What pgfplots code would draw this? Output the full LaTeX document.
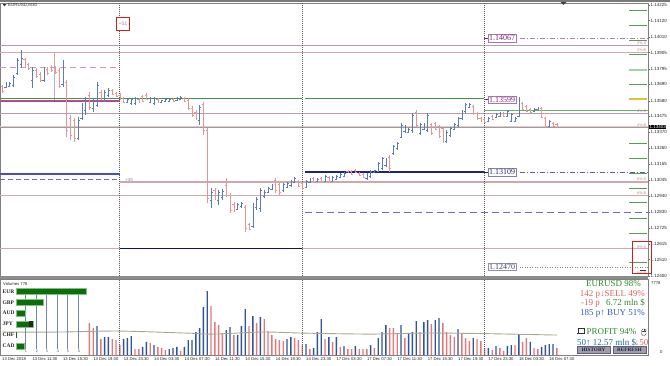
\documentclass[border=0pt]{standalone}
\usepackage{pgfplots}
\pgfplotsset{compat=1.18}
\usepackage{pgfplotstable}
\usepackage{fontspec}
\setmainfont{Liberation Sans}
\newfontfamily\serif{Liberation Serif}

\definecolor{upc}{HTML}{5A7DB0}
\definecolor{dnc}{HTML}{E59595}
\definecolor{vup}{HTML}{2F5597}
\definecolor{vdn}{HTML}{E07A7A}
\definecolor{mauve}{HTML}{B89AB4}
\definecolor{pinkl}{HTML}{CDA8AE}
\definecolor{greenl}{HTML}{3C9A3C}
\definecolor{navy}{HTML}{202080}
\definecolor{purp}{HTML}{7A2A7A}
\definecolor{txtgreen}{HTML}{2E8B2E}
\definecolor{txtred}{HTML}{E06060}
\definecolor{txtblue}{HTML}{3060B0}
\definecolor{txtteal}{HTML}{1F6F8F}
\definecolor{cgreen}{HTML}{0A6E0A}
\definecolor{dashpink}{HTML}{D890C0}
\definecolor{curband}{HTML}{D6CFCF}
\definecolor{curline}{HTML}{A89898}
\definecolor{greenthin}{HTML}{6AB06A}
\definecolor{bluel}{HTML}{4A4AD0}
\definecolor{dashgray}{HTML}{707090}
\definecolor{ddnavy}{HTML}{606090}
\definecolor{dashnavy}{HTML}{7070A8}
\definecolor{navyd}{HTML}{101060}
\definecolor{ddpurp}{HTML}{B080B0}
\definecolor{magental}{HTML}{C040A0}
\definecolor{sgreen}{HTML}{5A9A5A}
\definecolor{sgreenl}{HTML}{A8D0A8}
\definecolor{syellow}{HTML}{E0C040}
\definecolor{boxpurp}{HTML}{B070B0}
\definecolor{boxnavy}{HTML}{8080B0}
\definecolor{txtnavy}{HTML}{2A2A6A}
\definecolor{boxgray}{HTML}{9090B0}
\definecolor{txtgray}{HTML}{40406A}
\definecolor{plusc}{HTML}{8090B0}
\definecolor{redbox}{HTML}{D02020}
\definecolor{plusfc}{HTML}{B080C0}
\definecolor{pctc}{HTML}{C08080}
\definecolor{sepc}{HTML}{8C8C8C}
\definecolor{topb}{HTML}{7A7A7A}
\definecolor{vlinec}{HTML}{7088A8}
\definecolor{cgreenl}{HTML}{80C080}
\definecolor{mac}{HTML}{A8A890}
\definecolor{btnfill}{HTML}{9C9CAA}
\definecolor{btndraw}{HTML}{606070}
\definecolor{btntext}{HTML}{202050}

\pgfdeclareplotmark{otick}{\pgfpathmoveto{\pgfqpoint{-1.5pt}{0pt}}\pgfpathlineto{\pgfqpoint{0pt}{0pt}}\pgfusepathqstroke}
\pgfdeclareplotmark{ctick}{\pgfpathmoveto{\pgfqpoint{0pt}{0pt}}\pgfpathlineto{\pgfqpoint{1.5pt}{0pt}}\pgfusepathqstroke}

\pgfplotstableread{
i o h l c
1 1.13673 1.13706 1.13666 1.13700
2 1.13679 1.13706 1.13673 1.13700
3 1.13686 1.13753 1.13673 1.13740
4 1.13767 1.13868 1.13753 1.13854
5 1.13827 1.13922 1.13801 1.13868
8 1.13720 1.13807 1.13666 1.13787
11 1.13720 1.13807 1.13706 1.13787
16 1.13693 1.13854 1.13673 1.13834
20 1.13329 1.13471 1.13316 1.13450
21 1.13464 1.13565 1.13450 1.13551
22 1.13518 1.13605 1.13484 1.13585
24 1.13531 1.13599 1.13504 1.13585
25 1.13551 1.13706 1.13538 1.13686
27 1.13585 1.13652 1.13572 1.13639
28 1.13619 1.13666 1.13605 1.13652
33 1.13572 1.13599 1.13565 1.13592
34 1.13565 1.13599 1.13551 1.13592
35 1.13565 1.13605 1.13551 1.13599
39 1.13572 1.13605 1.13565 1.13599
40 1.13565 1.13605 1.13551 1.13599
42 1.13572 1.13585 1.13565 1.13585
43 1.13578 1.13599 1.13572 1.13592
44 1.13578 1.13599 1.13572 1.13592
46 1.13585 1.13605 1.13578 1.13599
47 1.13592 1.13612 1.13585 1.13605
52 1.13450 1.13551 1.13417 1.13538
55 1.12912 1.12993 1.12858 1.12966
57 1.12912 1.12979 1.12878 1.12966
58 1.12932 1.12986 1.12912 1.12972
62 1.12851 1.12892 1.12845 1.12885
63 1.12871 1.12898 1.12858 1.12892
66 1.12737 1.12892 1.12723 1.12878
67 1.12865 1.12932 1.12845 1.12919
68 1.12858 1.12993 1.12831 1.12979
69 1.12939 1.12979 1.12925 1.12966
70 1.12966 1.12999 1.12959 1.12993
71 1.12986 1.13020 1.12979 1.13013
74 1.12979 1.13026 1.12966 1.13020
75 1.12999 1.13033 1.12993 1.13026
76 1.13013 1.13047 1.12999 1.13040
77 1.13033 1.13067 1.13026 1.13060
80 1.12999 1.13047 1.12993 1.13040
81 1.13033 1.13060 1.13026 1.13053
83 1.13040 1.13060 1.13033 1.13053
85 1.13040 1.13080 1.13033 1.13073
87 1.13040 1.13073 1.13033 1.13067
88 1.13053 1.13080 1.13047 1.13073
89 1.13067 1.13094 1.13060 1.13087
90 1.13073 1.13100 1.13067 1.13094
96 1.13060 1.13094 1.13047 1.13087
97 1.13073 1.13114 1.13060 1.13107
98 1.13100 1.13114 1.13094 1.13110
99 1.13107 1.13168 1.13100 1.13161
100 1.13127 1.13201 1.13114 1.13195
101 1.13148 1.13195 1.13134 1.13188
103 1.13228 1.13282 1.13215 1.13275
104 1.13262 1.13302 1.13249 1.13296
105 1.13336 1.13430 1.13329 1.13417
106 1.13376 1.13417 1.13363 1.13410
107 1.13370 1.13397 1.13363 1.13390
108 1.13383 1.13498 1.13363 1.13484
110 1.13363 1.13430 1.13350 1.13424
111 1.13390 1.13430 1.13383 1.13424
112 1.13383 1.13498 1.13370 1.13484
117 1.13309 1.13383 1.13296 1.13370
118 1.13350 1.13403 1.13336 1.13397
119 1.13390 1.13430 1.13383 1.13424
120 1.13417 1.13471 1.13403 1.13464
121 1.13464 1.13518 1.13450 1.13511
122 1.13511 1.13565 1.13498 1.13558
123 1.13538 1.13565 1.13531 1.13558
128 1.13444 1.13471 1.13437 1.13464
130 1.13471 1.13498 1.13464 1.13491
131 1.13477 1.13504 1.13471 1.13498
133 1.13477 1.13518 1.13471 1.13511
134 1.13444 1.13498 1.13437 1.13491
135 1.13444 1.13471 1.13437 1.13464
136 1.13477 1.13605 1.13471 1.13592
140 1.13511 1.13531 1.13504 1.13525
141 1.13525 1.13538 1.13518 1.13531
144 1.13410 1.13450 1.13403 1.13444
}\upbars

\pgfplotstableread{
i o h l c
0 1.13679 1.13686 1.13632 1.13646
6 1.13861 1.13868 1.13807 1.13821
7 1.13827 1.13834 1.13787 1.13801
9 1.13787 1.13801 1.13733 1.13747
10 1.13760 1.13774 1.13706 1.13720
12 1.13794 1.13807 1.13753 1.13767
13 1.13807 1.13821 1.13774 1.13787
14 1.13801 1.13814 1.13760 1.13774
15 1.13787 1.13801 1.13666 1.13679
17 1.13706 1.13720 1.13336 1.13383
18 1.13464 1.13484 1.13316 1.13350
19 1.13450 1.13464 1.13302 1.13329
23 1.13619 1.13639 1.13518 1.13538
26 1.13639 1.13652 1.13585 1.13599
29 1.13652 1.13659 1.13619 1.13626
30 1.13632 1.13639 1.13605 1.13612
31 1.13619 1.13632 1.13585 1.13599
32 1.13599 1.13605 1.13565 1.13572
36 1.13592 1.13599 1.13565 1.13572
37 1.13612 1.13619 1.13572 1.13578
38 1.13619 1.13632 1.13585 1.13592
41 1.13592 1.13599 1.13565 1.13572
45 1.13592 1.13599 1.13572 1.13578
48 1.13599 1.13605 1.13572 1.13578
49 1.13585 1.13599 1.13518 1.13531
50 1.13531 1.13545 1.13471 1.13484
51 1.13504 1.13518 1.13450 1.13464
53 1.13558 1.13572 1.13350 1.13383
54 1.13383 1.13397 1.12892 1.12925
56 1.12979 1.12993 1.12912 1.12925
59 1.13013 1.13060 1.12932 1.12946
60 1.12946 1.12959 1.12824 1.12845
61 1.12885 1.12898 1.12831 1.12845
64 1.12865 1.12878 1.12696 1.12723
65 1.12750 1.12757 1.12710 1.12717
72 1.13047 1.13060 1.12959 1.12979
73 1.13020 1.13033 1.12946 1.12966
78 1.13040 1.13047 1.12999 1.13006
79 1.13026 1.13033 1.12979 1.12993
82 1.13060 1.13067 1.13033 1.13040
84 1.13060 1.13067 1.13033 1.13040
86 1.13067 1.13073 1.13033 1.13040
91 1.13107 1.13114 1.13094 1.13100
92 1.13107 1.13114 1.13080 1.13087
93 1.13114 1.13121 1.13094 1.13100
94 1.13094 1.13100 1.13073 1.13080
95 1.13087 1.13094 1.13060 1.13067
102 1.13201 1.13215 1.13100 1.13127
109 1.13504 1.13518 1.13403 1.13417
113 1.13424 1.13430 1.13350 1.13363
114 1.13430 1.13437 1.13383 1.13390
115 1.13410 1.13417 1.13329 1.13343
116 1.13397 1.13403 1.13296 1.13309
124 1.13545 1.13551 1.13484 1.13498
125 1.13498 1.13504 1.13450 1.13464
126 1.13464 1.13471 1.13437 1.13444
127 1.13457 1.13464 1.13430 1.13437
129 1.13477 1.13484 1.13450 1.13457
132 1.13498 1.13504 1.13471 1.13477
137 1.13565 1.13572 1.13518 1.13525
138 1.13545 1.13551 1.13504 1.13511
139 1.13525 1.13531 1.13498 1.13504
142 1.13531 1.13538 1.13464 1.13471
143 1.13464 1.13471 1.13397 1.13410
145 1.13430 1.13437 1.13403 1.13410
146 1.13424 1.13430 1.13403 1.13403
}\dnbars

\pgfplotstableread{
i v
25 2960
27 1840
28 1840
32 1630
33 1730
34 1940
37 820
38 1330
40 1020
44 610
45 710
46 820
48 820
49 1530
50 1530
51 2350
52 2750
53 4900
54 6530
59 2550
60 2860
62 2040
63 2960
64 4690
66 3980
68 3880
75 1630
76 1840
80 1120
82 710
83 2350
84 3670
86 1840
88 1840
90 920
93 920
97 1020
99 1730
100 2350
101 3060
105 3060
107 2240
108 2350
109 3470
111 3370
112 3570
114 3570
115 3770
120 2650
124 1730
128 710
130 920
133 920
134 1020
136 2140
139 1330
142 820
143 1020
144 1120
145 1120
}\volup

\pgfplotstableread{
i v
23 3260
24 2750
26 1630
29 1630
30 1530
31 1020
35 610
36 610
39 1220
41 820
42 710
43 510
47 410
55 5000
56 3370
57 3060
58 2240
61 2040
65 2960
67 3260
69 3670
70 2450
71 2040
72 1630
73 1530
74 1430
77 1730
78 1530
79 1020
81 610
85 1630
87 1330
89 820
91 610
92 610
94 610
95 610
96 610
98 710
102 2750
103 2750
104 2140
106 1730
110 2350
113 3160
116 3260
117 2350
118 2040
119 1840
121 2240
122 1730
123 1430
125 1630
126 1430
127 710
129 510
131 710
132 410
135 1020
137 1330
138 1730
140 710
141 610
146 710
}\voldn

\begin{document}
\begin{tikzpicture}[x=1pt,y=1pt]
\useasboundingbox (0,0) rectangle (670,366);
\fill[white] (0,0) rectangle (670,366);

% ---------------- price panel ----------------
\begin{axis}[at={(0pt,363pt)}, anchor=north west, scale only axis,
  width=648pt, height=273pt,
  xmin=-0.53, xmax=170, ymin=1.12400, ymax=1.14238,
  clip=false, axis line style={draw=black!50, line width=0.5pt},
  xtick=\empty,
  ytick={1.14225,1.14120,1.14010,1.13905,1.13795,1.13690,1.13580,1.13475,1.13370,1.13260,1.13155,1.13045,1.12940,1.12830,1.12725,1.12615,1.12510,1.12400},
  yticklabels={1.14225,1.14120,1.14010,1.13905,1.13795,1.13690,1.13580,1.13475,1.13370,1.13260,1.13155,1.13045,1.12940,1.12830,1.12725,1.12615,1.12510,1.12400},
  ytick pos=right, yticklabel pos=right, tick align=outside,
  major tick length=1.5pt, tick style={black!60, line width=0.4pt},
  yticklabel style={font=\fontsize{4.5}{5}\selectfont, anchor=west, inner sep=0.5pt, xshift=0.5pt, text=black!85},
]
% horizontal levels
\addplot[mauve, line width=0.7pt] coordinates {(-0.53,1.13955) (170,1.13955)};
\addplot[pinkl, line width=0.7pt] coordinates {(-0.53,1.13908) (170,1.13908)};
\addplot[dashpink, line width=0.8pt, dash pattern=on 6pt off 4pt] coordinates {(-0.53,1.13807) (31.05,1.13807)};
\addplot[pinkl, line width=0.6pt] coordinates {(13.7,1.13908) (13.7,1.13585)};
\addplot[mauve, line width=0.7pt] coordinates {(-0.53,1.13498) (170,1.13498)};
\addplot[curband, line width=2.6pt] coordinates {(-0.53,1.13403) (170,1.13403)};
\addplot[curline, line width=0.5pt] coordinates {(-0.53,1.13403) (170,1.13403)};
\addplot[greenthin, line width=0.6pt] coordinates {(126.8,1.13518) (170,1.13518)};
\addplot[pinkl, line width=1.1pt] coordinates {(31.05,1.13033) (170,1.13033)};
\addplot[pinkl, line width=0.7pt] coordinates {(-0.53,1.12946) (170,1.12946)};
\addplot[pinkl, line width=0.9pt] coordinates {(-0.53,1.12583) (170,1.12583)};
\addplot[bluel, line width=1.1pt] coordinates {(-0.53,1.13087) (31.05,1.13087)};
\addplot[dashgray, line width=0.7pt, dash pattern=on 5pt off 3pt] coordinates {(-0.53,1.13053) (31.05,1.13053)};
\addplot[navy, line width=1.1pt] coordinates {(79.74,1.13100) (126.8,1.13100)};
\addplot[ddnavy, line width=0.6pt, dash pattern=on 5pt off 2pt on 1pt off 2pt] coordinates {(136.3,1.13100) (170,1.13100)};
\addplot[dashnavy, line width=0.8pt, dash pattern=on 7pt off 4pt] coordinates {(79.74,1.12831) (170,1.12831)};
\addplot[navyd, line width=1.2pt] coordinates {(31.05,1.12583) (78.95,1.12583)};
\addplot[black!50, line width=0.5pt, dash pattern=on 1pt off 1.5pt] coordinates {(136.3,1.12461) (170,1.12461)};
\addplot[ddpurp, line width=0.6pt, dash pattern=on 5pt off 2pt on 1pt off 2pt] coordinates {(136.3,1.14002) (170,1.14002)};
\addplot[greenl, line width=1.1pt] coordinates {(-0.53,1.13592) (78.95,1.13592)};
\addplot[greenl, line width=1.1pt] coordinates {(79.74,1.13592) (126.8,1.13592)};
\addplot[magental, line width=1.4pt] coordinates {(-0.53,1.13578) (31.05,1.13578)};
% short marks before labels
\addplot[purp, line width=1pt] coordinates {(126.8,1.14002) (127.9,1.14002)};
\addplot[purp, line width=1pt] coordinates {(126.8,1.13585) (127.9,1.13585)};
\addplot[navy, line width=1pt] coordinates {(126.8,1.13100) (127.9,1.13100)};
% right-side scale marks
\addplot[sgreen, line width=0.6pt] coordinates {(165,1.14191) (169.7,1.14191)};
\addplot[sgreen, line width=0.6pt] coordinates {(165,1.14090) (169.7,1.14090)};
\addplot[sgreen, line width=0.6pt] coordinates {(165,1.13989) (169.7,1.13989)};
\addplot[sgreen, line width=0.6pt] coordinates {(165,1.13895) (169.7,1.13895)};
\addplot[sgreenl, line width=1.2pt] coordinates {(165,1.13787) (169.7,1.13787)};
\addplot[sgreen, line width=0.6pt] coordinates {(165,1.13693) (169.7,1.13693)};
\addplot[syellow, line width=1.2pt] coordinates {(165,1.13592) (169.7,1.13592)};
\addplot[sgreen, line width=0.6pt] coordinates {(165,1.13296) (169.7,1.13296)};
\addplot[sgreen, line width=0.6pt] coordinates {(165,1.13195) (169.7,1.13195)};
\addplot[sgreen, line width=0.6pt] coordinates {(165,1.13094) (169.7,1.13094)};
\addplot[sgreen, line width=0.6pt] coordinates {(165,1.12993) (169.7,1.12993)};
\addplot[sgreen, line width=0.6pt] coordinates {(165,1.12898) (169.7,1.12898)};
\addplot[sgreen, line width=0.6pt] coordinates {(165,1.12791) (169.7,1.12791)};
\addplot[sgreen, line width=0.6pt] coordinates {(165,1.12690) (169.7,1.12690)};
\addplot[sgreen, line width=0.6pt] coordinates {(165,1.12495) (169.7,1.12495)};
% day separators
\addplot[black!65, line width=0.5pt, dash pattern=on 1pt off 1pt] coordinates {(30.9,1.12400) (30.9,1.14238)};
\addplot[black!65, line width=0.5pt, dash pattern=on 1pt off 1pt] coordinates {(78.95,1.12400) (78.95,1.14238)};
\addplot[black!65, line width=0.5pt, dash pattern=on 1pt off 1pt] coordinates {(126.8,1.12400) (126.8,1.14238)};
% OHLC bars
\addplot[draw=none, mark=none, forget plot, error bars/.cd, y dir=plus, y explicit, error mark=none, error bar style={draw=upc, solid, line width=0.55pt}]
  table[x=i, y=l, y error expr={\thisrow{h}-\thisrow{l}}] {\upbars};
\addplot[only marks, mark=otick, upc, mark options={line width=0.55pt}] table[x=i, y=o] {\upbars};
\addplot[only marks, mark=ctick, upc, mark options={line width=0.55pt}] table[x=i, y=c] {\upbars};
\addplot[draw=none, mark=none, forget plot, error bars/.cd, y dir=plus, y explicit, error mark=none, error bar style={draw=dnc, solid, line width=0.55pt}]
  table[x=i, y=l, y error expr={\thisrow{h}-\thisrow{l}}] {\dnbars};
\addplot[only marks, mark=otick, dnc, mark options={line width=0.55pt}] table[x=i, y=o] {\dnbars};
\addplot[only marks, mark=ctick, dnc, mark options={line width=0.55pt}] table[x=i, y=c] {\dnbars};
% label boxes
\node[anchor=west, draw=boxpurp, fill=white, text=purp, inner sep=1pt, font=\serif\fontsize{8}{8}\selectfont] at (axis cs:127.9,1.14002) {1.14067};
\node[anchor=west, draw=boxpurp, fill=white, text=purp, inner sep=1pt, font=\serif\fontsize{8}{8}\selectfont] at (axis cs:127.9,1.13585) {1.13599};
\node[anchor=west, draw=boxnavy, fill=white, text=txtnavy, inner sep=1pt, font=\serif\fontsize{8}{8}\selectfont] at (axis cs:127.9,1.13100) {1.13109};
\node[anchor=west, draw=boxgray, fill=white, text=txtgray, inner sep=1pt, font=\serif\fontsize{8}{8}\selectfont] at (axis cs:127.9,1.12461) {1.12470};
% small texts
\node[anchor=west, text=plusc, font=\fontsize{4.5}{5}\selectfont, inner sep=0pt] at (axis cs:32.4,1.13047) {+39};
\node[draw=redbox, line width=1pt, fill=white, text=plusfc, font=\fontsize{5}{5}\selectfont, minimum width=13pt, minimum height=13pt, inner sep=0pt] at (axis cs:31.8,1.14097) {+51};
\node[anchor=east, text=pctc, font=\fontsize{3.8}{4}\selectfont, inner sep=0pt] at (axis cs:169.6,1.13969) {2\% S};
\node[anchor=east, text=pctc, font=\fontsize{3.8}{4}\selectfont, inner sep=0pt] at (axis cs:169.6,1.13922) {2\% B};
\node[anchor=east, text=pctc, font=\fontsize{3.8}{4}\selectfont, inner sep=0pt] at (axis cs:169.6,1.13511) {4\% S};
\node[anchor=east, text=pctc, font=\fontsize{3.8}{4}\selectfont, inner sep=0pt] at (axis cs:169.6,1.13417) {4\% B};
\node[anchor=east, text=pctc, font=\fontsize{3.8}{4}\selectfont, inner sep=0pt] at (axis cs:169.6,1.13053) {6\% S};
\node[anchor=east, text=pctc, font=\fontsize{3.8}{4}\selectfont, inner sep=0pt] at (axis cs:169.6,1.12959) {6\% B};
\node[anchor=east, text=pctc, font=\fontsize{3.8}{4}\selectfont, inner sep=0pt] at (axis cs:169.6,1.12596) {8\% S};
\node[anchor=east, text=pctc, font=\fontsize{3.8}{4}\selectfont, inner sep=0pt] at (axis cs:169.6,1.12418) {8\% B};
\draw[redbox, line width=1pt] (axis cs:166.05,1.12629) rectangle (axis cs:170.8,1.12414);
\draw[black!80, line width=0.6pt] (axis cs:167.9,1.12436) -- (axis cs:169.6,1.12436);
\node[anchor=west, fill=black, text=white, font=\fontsize{4.5}{5}\selectfont, inner sep=0.6pt] at (axis cs:170.2,1.13403) {1.13403};
\end{axis}

% ---------------- volume panel ----------------
\begin{axis}[at={(0pt,11pt)}, anchor=south west, scale only axis,
  width=648pt, height=76pt,
  xmin=-0.53, xmax=170, ymin=0, ymax=7778,
  clip=false, axis line style={draw=black!50, line width=0.5pt},
  ytick=\empty,
  xtick={0,8,...,144},
  xticklabels={13 Dec 2018,13 Dec 11:30,13 Dec 15:30,13 Dec 19:30,13 Dec 23:30,14 Dec 03:30,14 Dec 07:30,14 Dec 11:30,14 Dec 15:30,14 Dec 19:30,14 Dec 23:30,17 Dec 03:30,17 Dec 07:30,17 Dec 11:30,17 Dec 15:30,17 Dec 19:30,17 Dec 23:30,18 Dec 03:30,18 Dec 07:30},
  xtick pos=bottom, tick align=outside, major tick length=1.5pt,
  tick style={black!60, line width=0.4pt},
  xticklabel style={font=\fontsize{4.2}{5}\selectfont, anchor=north west, inner sep=0.5pt, xshift=-0.5pt, text=black!85},
]
\addplot[ybar, bar shift=0pt, bar width=1.4pt, fill=vup, draw=none] table[x=i, y=v] {\volup};
\addplot[ybar, bar shift=0pt, bar width=1.4pt, fill=vdn, draw=none] table[x=i, y=v] {\voldn};
\addplot[mac, line width=0.9pt, smooth] coordinates {(0,2350) (15.3,2350) (30.5,2450) (48.7,2240) (55.5,2140) (68.7,2350) (79.2,2240) (96.8,2140) (110,2240) (116,2240) (126.6,2190) (146,2040)};
\addplot[black!65, line width=0.5pt, dash pattern=on 1pt off 1pt] coordinates {(30.9,0) (30.9,7778)};
\addplot[black!65, line width=0.5pt, dash pattern=on 1pt off 1pt] coordinates {(78.95,0) (78.95,7778)};
\addplot[black!65, line width=0.5pt, dash pattern=on 1pt off 1pt] coordinates {(126.8,0) (126.8,7778)};
\end{axis}

% panel separator and frame
\fill[sepc] (0,87.3) rectangle (648,89.8);
\fill[topb] (0,364.3) rectangle (670,366);
\fill[black!75] (560.5,364) -- (566.5,364) -- (563.5,361) -- cycle;
\fill[black!75] (2.5,362) -- (6.5,362) -- (4.5,359.5) -- cycle;
\node[anchor=west, font=\fontsize{4.5}{5}\selectfont, text=black!80, inner sep=0pt] at (8,360.5) {EURUSD,M30};

% volume axis labels
\node[anchor=west, font=\fontsize{4.2}{5}\selectfont, inner sep=0pt, text=black!85] at (651,83) {7778};
\node[anchor=west, font=\fontsize{4.2}{5}\selectfont, inner sep=0pt, text=black!85] at (660,14) {0};
\node[anchor=west, font=\fontsize{4.2}{5}\selectfont, inner sep=0pt, text=black!85] at (3,82) {Volumes 778};

% currency strength overlay
\foreach \x/\n in {25/1,36/2,46/3,57/4,67/5,78/6}{
  \draw[vlinec, line width=0.5pt] (\x,71) -- (\x,17);
  \node[font=\fontsize{3.6}{4}\selectfont, inner sep=0pt, text=black!70] at (\x+1,14.5) {\n};
}
\foreach \y/\n in {74/EUR,63/GBP,53/AUD,42/JPY,31/CHF,20/CAD}{
  \node[anchor=west, font=\serif\bfseries\fontsize{5.5}{6}\selectfont, inner sep=0pt, text=black!85] at (2.5,\y) {\n};
}
\filldraw[fill=cgreen, draw=cgreenl, line width=0.5pt] (16,72) rectangle (86,78);
\filldraw[fill=cgreen, draw=cgreenl, line width=0.5pt] (16,61) rectangle (43,67);
\filldraw[fill=cgreen, draw=cgreenl, line width=0.5pt] (16,50) rectangle (25,56);
\filldraw[fill=cgreen, draw=cgreenl, line width=0.5pt] (16,39) rectangle (33,45);
\fill[black!85] (29,39.3) rectangle (32.7,44.7);
\fill[cgreen] (16,28) rectangle (17,34);
\filldraw[fill=cgreen, draw=cgreenl, line width=0.5pt] (16,17) rectangle (24,23);

% info panel
\node[anchor=east, font=\serif\fontsize{9}{9}\selectfont, text=txtgreen, inner sep=0pt] at (641,82) {EURUSD 98\%};
\node[anchor=east, font=\serif\fontsize{9}{9}\selectfont, text=txtred, inner sep=0pt] at (645,72) {142 p↓SELL 49\%};
\node[anchor=west, font=\serif\fontsize{9}{9}\selectfont, text=txtred, inner sep=0pt] at (581,63) {-19 p};
\node[anchor=east, font=\serif\fontsize{9}{9}\selectfont, text=txtgreen, inner sep=0pt] at (645,63) {6.72 mln \$};
\node[anchor=east, font=\serif\fontsize{9}{9}\selectfont, text=txtblue, inner sep=0pt] at (645,53) {185 p↑ BUY 51\%};
\draw[black!80, line width=0.5pt] (578.2,33.2) rectangle (584,37.8);
\fill[black!80] (577,31.6) rectangle (585.2,32.6);
\node[anchor=west, font=\serif\fontsize{9}{9}\selectfont, text=txtgreen, inner sep=0pt] at (586.5,34) {PROFIT 94\%};
\draw[black!70, line width=0.4pt, rounded corners=1.5pt] (641.5,30.5) rectangle (646,37);
\draw[black!70, line width=0.4pt] (641.5,34.5) -- (646,34.5) (643.75,34.5) -- (643.75,37);
\node[anchor=west, font=\serif\fontsize{9}{9}\selectfont, text=txtteal, inner sep=0pt] at (577,23) {50↑ 12.57 mln \$};
\node[anchor=east, font=\serif\fontsize{9}{9}\selectfont, text=txtred, inner sep=0pt] at (648.5,23) {↓50};
\filldraw[fill=btnfill, draw=btndraw, line width=0.5pt] (577,12.5) rectangle (610,19.5);
\filldraw[fill=btnfill, draw=btndraw, line width=0.5pt] (613,12.5) rectangle (646,19.5);
\node[font=\serif\bfseries\fontsize{5.2}{6}\selectfont, text=btntext, inner sep=0pt] at (593.5,16) {HISTORY};
\node[font=\serif\bfseries\fontsize{5.2}{6}\selectfont, text=btntext, inner sep=0pt] at (629.5,16) {REFRESH};
\end{tikzpicture}
\end{document}
